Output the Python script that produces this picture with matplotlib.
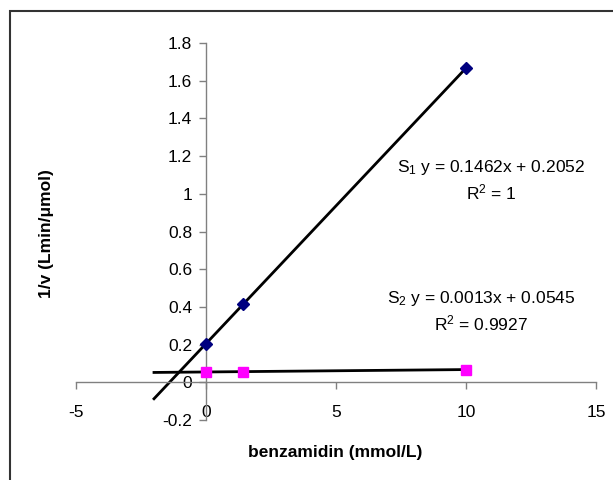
import numpy as np
import matplotlib.pyplot as plt
from matplotlib.patches import Rectangle

plt.rcParams['font.family'] = ['Liberation Sans', 'DejaVu Sans']
plt.rcParams['mathtext.fontset'] = 'custom'
plt.rcParams['mathtext.rm'] = 'Liberation Sans'
plt.rcParams['mathtext.it'] = 'Liberation Sans'

# benzamidin concentrations (mmol/L)
conc = [0, 1.43, 10]
# 1/v for substrate S1 and S2
s1 = [0.2052, 0.414, 1.667]
s2 = [0.0545, 0.0570, 0.0675]

x_ticks = [-5, 0, 5, 10, 15]
y_ticks = [-0.2, 0, 0.2, 0.4, 0.6, 0.8, 1, 1.2, 1.4, 1.6, 1.8]

fig = plt.figure(figsize=(6.13, 4.8), dpi=100)
ax = fig.add_axes([76 / 613, 1 - 420 / 480, 520 / 613, 377 / 480])

# trendlines, forecast backward 2 units
xs = np.array([-2, 10])
for ys in (s1, s2):
    k, b = np.polyfit(conc, ys, 1)
    ax.plot(xs, k * xs + b, color='black', lw=2, zorder=2)

ax.plot(conc, s1, 'D', color='#000080', ms=6.5, mec='#000080', zorder=3)
ax.plot(conc, s2, 's', color='#ff00ff', ms=7, mec='#ff00ff', zorder=3)

ax.set_xlim(-5, 15)
ax.set_ylim(-0.2, 1.8)
ax.set_xticks(x_ticks)
ax.set_yticks(y_ticks)
ax.set_xticklabels([str(v) for v in x_ticks])
ax.set_yticklabels([f'{v:g}' for v in y_ticks])

for side in ('top', 'right'):
    ax.spines[side].set_visible(False)
ax.spines['left'].set_position(('data', 0))
ax.spines['bottom'].set_position(('data', 0))
for side in ('left', 'bottom'):
    ax.spines[side].set_color('#808080')
    ax.spines[side].set_linewidth(1)
ax.tick_params(axis='both', color='#808080', length=5, width=1, labelsize=12.5)
ax.tick_params(axis='x', pad=11)
ax.tick_params(axis='y', pad=5)

ax.text(10.96, 1.137, 'S$_1$ y = 0.1462x + 0.2052', ha='center', va='center', fontsize=12.5)
ax.text(10.96, 1.009, 'R$^2$ = 1', ha='center', va='center', fontsize=12.5)
ax.text(10.58, 0.445, 'S$_2$ y = 0.0013x + 0.0545', ha='center', va='center', fontsize=12.5)
ax.text(10.58, 0.312, 'R$^2$ = 0.9927', ha='center', va='center', fontsize=12.5)

fig.text(335 / 613, 1 - 452 / 480, 'benzamidin (mmol/L)', ha='center', va='center',
         fontsize=12.5, fontweight='bold')
fig.text(46 / 613, 1 - 234 / 480, '1/v (Lmin/\u03bcmol)', ha='center', va='center',
         rotation=90, fontsize=12.5, fontweight='bold')

# chart border
fig.add_artist(Rectangle((10 / 613, -0.1), 1.2, 1.1 - 11 / 480, transform=fig.transFigure,
                         fill=False, edgecolor='#333333', lw=1.5, clip_on=False))

fig.savefig('out.png', dpi=100)
